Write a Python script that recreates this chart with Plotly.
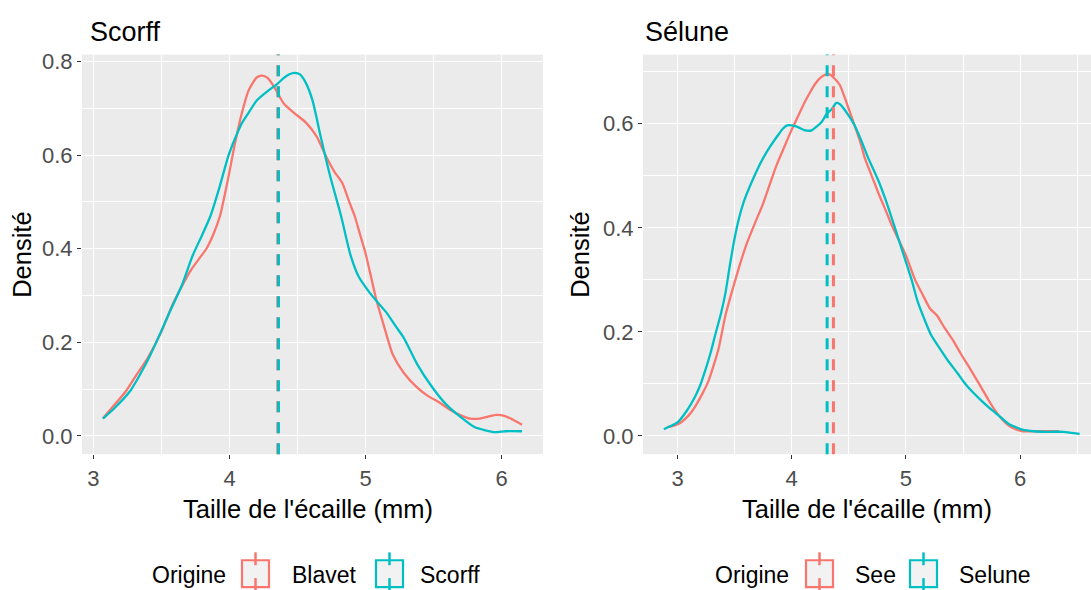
import plotly.graph_objects as go

W, H = 1091, 590

RED = "#F8766D"
TEAL = "#00BFC4"

# ---- data ----
panel_titles = ["Scorff", "Sélune"]
groups_left = ["Blavet", "Scorff"]
groups_right = ["See", "Selune"]

blavet_x = [3.07, 3.15, 3.24, 3.32, 3.40, 3.50, 3.58, 3.65, 3.72, 3.78, 3.83, 3.88, 3.93,
            3.99, 4.04, 4.09, 4.14, 4.20, 4.24, 4.28, 4.33, 4.40, 4.48, 4.56, 4.64, 4.71,
            4.77, 4.83, 4.88, 4.92, 4.96, 5.00, 5.04, 5.08, 5.13, 5.20, 5.28, 5.38, 5.46,
            5.54, 5.62, 5.70, 5.77, 5.84, 5.90, 5.96, 6.02, 6.08, 6.15]
blavet_y = [0.038, 0.065, 0.096, 0.132, 0.167, 0.223, 0.280, 0.320, 0.356, 0.380, 0.400,
            0.430, 0.470, 0.550, 0.625, 0.689, 0.738, 0.766, 0.770, 0.765, 0.745, 0.710,
            0.689, 0.670, 0.640, 0.597, 0.565, 0.540, 0.500, 0.470, 0.430, 0.390, 0.340,
            0.290, 0.240, 0.174, 0.135, 0.103, 0.085, 0.072, 0.056, 0.044, 0.037, 0.037,
            0.041, 0.045, 0.043, 0.035, 0.024]

scorff_x = [3.07, 3.15, 3.27, 3.35, 3.42, 3.50, 3.55, 3.65, 3.73, 3.80, 3.86, 3.93, 3.99,
            4.04, 4.09, 4.15, 4.20, 4.28, 4.35, 4.40, 4.44, 4.48, 4.52, 4.56, 4.61, 4.67,
            4.74, 4.82, 4.89, 4.95, 5.02, 5.09, 5.15, 5.22, 5.28, 5.38, 5.49, 5.59, 5.70,
            5.80, 5.88, 5.95, 6.03, 6.15]
scorff_y = [0.037, 0.058, 0.096, 0.135, 0.174, 0.225, 0.258, 0.322, 0.386, 0.430, 0.470,
            0.535, 0.597, 0.635, 0.668, 0.695, 0.717, 0.737, 0.752, 0.765, 0.773, 0.776,
            0.772, 0.755, 0.717, 0.640, 0.555, 0.470, 0.386, 0.340, 0.310, 0.285, 0.265,
            0.235, 0.210, 0.153, 0.104, 0.068, 0.040, 0.019, 0.012, 0.008, 0.010, 0.010]

see_x = [2.91, 2.97, 3.03, 3.10, 3.15, 3.21, 3.27, 3.32, 3.36, 3.42, 3.48, 3.54, 3.60, 3.68,
         3.75, 3.81, 3.87, 3.93, 3.99, 4.05, 4.11, 4.16, 4.20, 4.25, 4.30, 4.34, 4.37, 4.42,
         4.46, 4.50, 4.55, 4.60, 4.64, 4.70, 4.76, 4.82, 4.88, 4.94, 5.00, 5.08, 5.15, 5.21,
         5.27, 5.34, 5.42, 5.48, 5.54, 5.60, 5.66, 5.72, 5.78, 5.84, 5.90, 5.96, 6.02, 6.14,
         6.25, 6.34]
see_y = [0.017, 0.020, 0.026, 0.040, 0.055, 0.078, 0.105, 0.138, 0.168, 0.232, 0.280, 0.325,
         0.366, 0.410, 0.447, 0.485, 0.522, 0.553, 0.584, 0.612, 0.640, 0.660, 0.675, 0.688,
         0.695, 0.694, 0.688, 0.675, 0.653, 0.628, 0.597, 0.565, 0.534, 0.500, 0.466, 0.435,
         0.403, 0.375, 0.347, 0.300, 0.270, 0.245, 0.232, 0.207, 0.181, 0.158, 0.137, 0.115,
         0.093, 0.070, 0.049, 0.032, 0.020, 0.013, 0.009, 0.009, 0.009, 0.009]

selune_x = [2.88, 2.95, 3.00, 3.08, 3.15, 3.20, 3.24, 3.29, 3.33, 3.38, 3.42, 3.46, 3.50,
            3.54, 3.58, 3.63, 3.69, 3.75, 3.81, 3.87, 3.92, 3.96, 4.00, 4.05, 4.11, 4.17,
            4.22, 4.26, 4.31, 4.35, 4.39, 4.42, 4.46, 4.50, 4.55, 4.61, 4.67, 4.72, 4.76,
            4.82, 4.88, 4.94, 5.00, 5.05, 5.10, 5.16, 5.22, 5.30, 5.37, 5.45, 5.52, 5.59,
            5.66, 5.72, 5.78, 5.84, 5.90, 5.96, 6.02, 6.12, 6.23, 6.38, 6.45, 6.52]
selune_y = [0.013, 0.020, 0.026, 0.048, 0.074, 0.098, 0.124, 0.160, 0.194, 0.235, 0.275,
            0.330, 0.380, 0.420, 0.450, 0.478, 0.508, 0.534, 0.556, 0.575, 0.590, 0.597,
            0.597, 0.594, 0.588, 0.587, 0.595, 0.603, 0.620, 0.628, 0.640, 0.638, 0.628,
            0.615, 0.597, 0.567, 0.534, 0.510, 0.490, 0.455, 0.416, 0.375, 0.334, 0.300,
            0.260, 0.225, 0.194, 0.167, 0.144, 0.121, 0.100, 0.083, 0.068, 0.056, 0.045,
            0.034, 0.023, 0.017, 0.012, 0.009, 0.008, 0.008, 0.006, 0.004]

means_left = [4.355, 4.36]    # Blavet, Scorff
means_right = [4.365, 4.31]   # See, Selune

x_ticks = [3, 4, 5, 6]
y_ticks_left = [0.0, 0.2, 0.4, 0.6, 0.8]
y_ticks_right = [0.0, 0.2, 0.4, 0.6]


def px(x):
    return x / W


def py(y):
    return 1 - y / H


FONT = "Liberation Sans, Arial, sans-serif"

fig = go.Figure()

series = [
    (blavet_x, blavet_y, RED, "x", "y"),
    (scorff_x, scorff_y, TEAL, "x", "y"),
    (see_x, see_y, RED, "x2", "y2"),
    (selune_x, selune_y, TEAL, "x2", "y2"),
]
for xs, ys, col, xa, ya in series:
    fig.add_trace(go.Scatter(
        x=xs, y=ys, mode="lines", xaxis=xa, yaxis=ya,
        line=dict(color=col, width=2.3, shape="spline", smoothing=0.6),
        showlegend=False, hoverinfo="skip",
    ))

for means, xr, yr in [(means_left, "x", "y domain"), (means_right, "x2", "y2 domain")]:
    for m, col in zip(means, [RED, TEAL]):
        fig.add_shape(type="line", xref=xr, yref=yr, x0=m, x1=m, y0=0, y1=1,
                      line=dict(color=col, width=3, dash="11px,10px"))

axis_common = dict(
    showgrid=True, gridcolor="white", gridwidth=1.2, zeroline=False,
    showline=False, ticks="outside", ticklen=4, tickwidth=1.1, tickcolor="#333333",
    tickfont=dict(size=22, color="#4D4D4D", family=FONT),
)

fig.update_layout(
    width=W, height=H,
    margin=dict(l=0, r=0, t=0, b=0),
    paper_bgcolor="white",
    plot_bgcolor="#EBEBEB",
    font=dict(family=FONT),
    showlegend=False,
    xaxis=dict(domain=[px(82), px(543)], range=[2.916, 6.304], anchor="y",
               tickvals=x_ticks,
               minor=dict(dtick=0.5, tick0=0, showgrid=True, gridcolor="white",
                          gridwidth=0.6, ticklen=0),
               **axis_common),
    yaxis=dict(domain=[py(453), py(50)], range=[-0.039, 0.815], anchor="x",
               tickvals=y_ticks_left, tickformat=".1f",
               minor=dict(dtick=0.1, tick0=0, showgrid=True, gridcolor="white",
                          gridwidth=0.6, ticklen=0),
               **axis_common),
    xaxis2=dict(domain=[px(643), 1.0], range=[2.698, 6.62], anchor="y2",
                tickvals=x_ticks,
                minor=dict(dtick=0.5, tick0=0, showgrid=True, gridcolor="white",
                           gridwidth=0.6, ticklen=0),
                **axis_common),
    yaxis2=dict(domain=[py(453), py(50)], range=[-0.035, 0.733], anchor="x2",
                tickvals=y_ticks_right, tickformat=".1f",
                minor=dict(dtick=0.1, tick0=0, showgrid=True, gridcolor="white",
                           gridwidth=0.6, ticklen=0),
                **axis_common),
)

ann = []
# panel titles
for title, xl in zip(panel_titles, [88, 643]):
    ann.append(dict(text=title, x=px(xl), y=py(27), xref="paper", yref="paper",
                    xanchor="left", yanchor="middle", showarrow=False,
                    font=dict(size=27, color="black", family=FONT)))
# axis titles
for cx, ylab_x in [(308, 22), (867, 580)]:
    ann.append(dict(text="Taille de l'écaille (mm)", x=px(cx), y=py(508), xref="paper",
                    yref="paper", xanchor="center", yanchor="middle", showarrow=False,
                    font=dict(size=25.5, color="black", family=FONT)))
    ann.append(dict(text="Densité", x=px(ylab_x), y=py(252), xref="paper", yref="paper",
                    xanchor="center", yanchor="middle", showarrow=False, textangle=-90,
                    font=dict(size=25.5, color="black", family=FONT)))

# legends (manual, ggplot-like keys)
legend_y = 575
legends = [
    (150, [(242, groups_left[0], 290, RED), (376, groups_left[1], 418, TEAL)]),
    (713, [(806, groups_right[0], 853, RED), (910, groups_right[1], 957, TEAL)]),
]
for title_x, items in legends:
    ann.append(dict(text="Origine", x=px(title_x), y=py(legend_y), xref="paper",
                    yref="paper", xanchor="left", yanchor="middle", showarrow=False,
                    font=dict(size=23, color="black", family=FONT)))
    for box_x, label, text_x, col in items:
        fig.add_shape(type="rect", xref="paper", yref="paper",
                      x0=px(box_x), x1=px(box_x + 27), y0=py(560), y1=py(587),
                      fillcolor="#F2F2F2", line=dict(color=col, width=2.2))
        cx = box_x + 13.5
        for y0, y1 in [(552, 565), (578, 590)]:
            fig.add_shape(type="line", xref="paper", yref="paper",
                          x0=px(cx), x1=px(cx), y0=py(y0), y1=py(y1),
                          line=dict(color=col, width=2.5))
        ann.append(dict(text=label, x=px(text_x), y=py(legend_y), xref="paper",
                        yref="paper", xanchor="left", yanchor="middle", showarrow=False,
                        font=dict(size=23, color="black", family=FONT)))

fig.update_layout(annotations=ann)

fig.write_html(
    "out.html",
    config={"displayModeBar": False},
    post_script="document.body.style.margin='0';document.body.style.overflow='hidden';",
)
